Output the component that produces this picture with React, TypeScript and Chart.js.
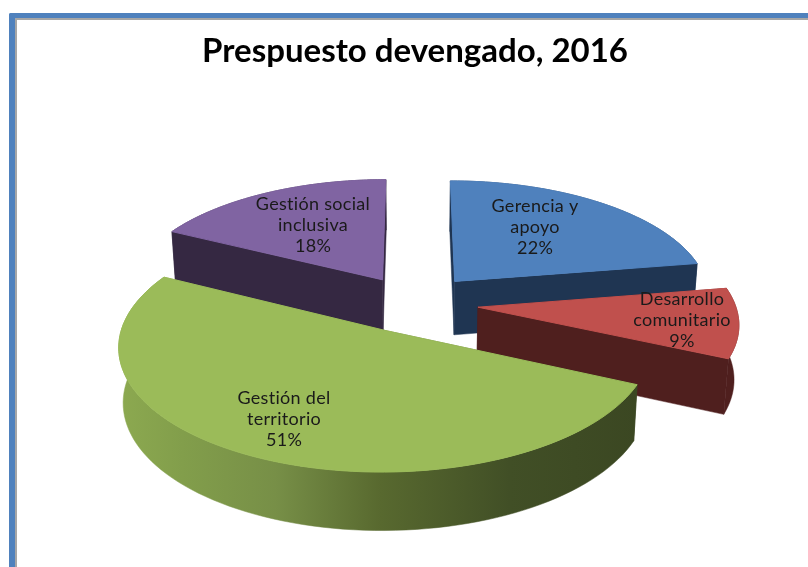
import React, { useEffect, useRef } from "react";
import { Chart, registerables } from "chart.js";

Chart.register(...registerables);

const titleText = "Prespuesto devengado, 2016";
const categories = ["Gerencia y apoyo", "Desarrollo comunitario", "Gestión del territorio", "Gestión social inclusiva"];
const values = [22.4, 9.4, 50.7, 17.5];
const explode = [25, 25, 25, 24];
const labelLines = [["Gerencia y", "apoyo"], ["Desarrollo", "comunitario"], ["Gestión del", "territorio"], ["Gestión social", "inclusiva"]];
const labelCenters = [[535, 206], [682, 299], [284, 398], [313, 204]];
const topColors = ["#4F81BD", "#C0504D", "#9BBB59", "#8064A2"];
const wallColors = ["#1F3552", "#4F1F1E", "#5a6e33", "#352842"];
const drawOrder = [0, 3, 1, 2];

// projection of the pie plane to the screen
const CX = 414, CY = 303.3, SX = 257, SY = 117.5, PERSP = 0.12, DEPTH = 54, NARROW = 0.985;
const FONT = "Lato, sans-serif";

type P = { x: number; y: number };
function project(X: number, Y: number, down: boolean): P {
  const f = 1 / (1 - Y * PERSP);
  const x = CX + SX * X * f * (down ? NARROW : 1);
  const y = CY + SY * Y * f + (down ? DEPTH * Math.sqrt(f) : 0);
  return { x, y };
}

const pie3d = {
  id: "pie3d",
  beforeDatasetsDraw(chart: any) {
    const ctx: CanvasRenderingContext2D = chart.ctx;
    const arcs = chart.getDatasetMeta(0).data;
    ctx.save();
    drawOrder.forEach((i) => {
      const arc = arcs[i];
      const { startAngle, endAngle } = arc.getProps(["startAngle", "endAngle"], true);
      const E = arc.options.offset / 100;
      const mid = (startAngle + endAngle) / 2;
      const ax = Math.cos(mid) * E, ay = Math.sin(mid) * E;
      const n = 90;
      const rim: [number, number][] = [];
      for (let s = 0; s <= n; s++) {
        const a = startAngle + ((endAngle - startAngle) * s) / n;
        rim.push([ax + Math.cos(a), ay + Math.sin(a)]);
      }
      let fill: any = wallColors[i];
      if (i === 2) {
        const g = ctx.createLinearGradient(120, 0, 640, 0);
        g.addColorStop(0, "#8CA950");
        g.addColorStop(0.12, "#829E4B");
        g.addColorStop(0.3, "#778F47");
        g.addColorStop(0.5, "#58692F");
        g.addColorStop(0.75, "#414F26");
        g.addColorStop(1, "#3B4722");
        fill = g;
      }
      const quad = (pts: [number, number][]) => {
        ctx.beginPath();
        pts.forEach(([X, Y], j) => {
          const p = project(X, Y, false);
          if (j === 0) ctx.moveTo(p.x, p.y); else ctx.lineTo(p.x, p.y);
        });
        for (let j = pts.length - 1; j >= 0; j--) {
          const p = project(pts[j][0], pts[j][1], true);
          ctx.lineTo(p.x, p.y);
        }
        ctx.closePath();
        ctx.fillStyle = fill;
        ctx.strokeStyle = fill;
        ctx.lineWidth = 0.5;
        ctx.fill();
        ctx.stroke();
      };
      const first = rim[0], last = rim[rim.length - 1];
      const walls: { y: number; pts: [number, number][] }[] = [
        { y: (ay + first[1]) / 2, pts: [[ax, ay], first] },
        { y: (ay + last[1]) / 2, pts: [[ax, ay], last] },
        { y: ay + Math.sin(mid), pts: rim },
      ];
      walls.sort((a, b) => a.y - b.y).forEach((w) => quad(w.pts));
      // top face
      ctx.beginPath();
      const a0 = project(ax, ay, false);
      ctx.moveTo(a0.x, a0.y);
      rim.forEach(([X, Y]) => {
        const p = project(X, Y, false);
        ctx.lineTo(p.x, p.y);
      });
      ctx.closePath();
      ctx.fillStyle = arc.options.backgroundColor;
      ctx.strokeStyle = arc.options.backgroundColor;
      ctx.lineWidth = 1;
      ctx.fill();
      ctx.stroke();
    });
    // labels
    ctx.fillStyle = "#1a1a1a";
    ctx.font = `18px ${FONT}`;
    (ctx as any).letterSpacing = "0.3px";
    ctx.textAlign = "center";
    ctx.textBaseline = "middle";
    labelLines.forEach((lines, i) => {
      const [lx, ly] = labelCenters[i];
      [...lines, `${Math.round(values[i])}%`].forEach((t, j) => ctx.fillText(t, lx, ly + j * 21));
    });
    ctx.restore();
    return false;
  },
};

export default function App() {
  const ref = useRef<HTMLCanvasElement>(null);
  useEffect(() => {
    const chart = new Chart(ref.current!, {
      type: "pie",
      data: {
        labels: categories,
        datasets: [{ data: values, backgroundColor: topColors, borderWidth: 0, offset: explode }],
      },
      options: {
        animation: false,
        responsive: false,
        layout: { padding: { left: 22, right: 0, top: 0, bottom: 0 } },
        plugins: {
          legend: { display: false },
          tooltip: { enabled: false },
          title: {
            display: true,
            text: titleText,
            color: "#000",
            font: { family: FONT, size: 33, weight: "bold" },
            padding: { top: 32, bottom: 10 },
          },
        },
      },
      plugins: [pie3d],
    } as any);
    return () => chart.destroy();
  }, []);
  return (
    <div style={{ position: "fixed", left: 0, top: 0, width: 808, height: 567, overflow: "hidden", background: "#fff" }}>
      <div style={{ position: "absolute", left: 9, top: 13, width: 900, height: 700, borderLeft: "6px solid #4F81BD", borderTop: "5px solid #4F81BD", borderTopLeftRadius: 2, boxSizing: "border-box" }} />
      <div style={{ position: "absolute", left: 15, top: 18, width: 900, height: 700, borderLeft: "2px solid #A6A6A6", borderTop: "2px solid #A6A6A6", boxSizing: "border-box" }} />
      <canvas ref={ref} width={808} height={567} style={{ position: "absolute", left: 0, top: 0, width: 808, height: 567 }} />
    </div>
  );
}
